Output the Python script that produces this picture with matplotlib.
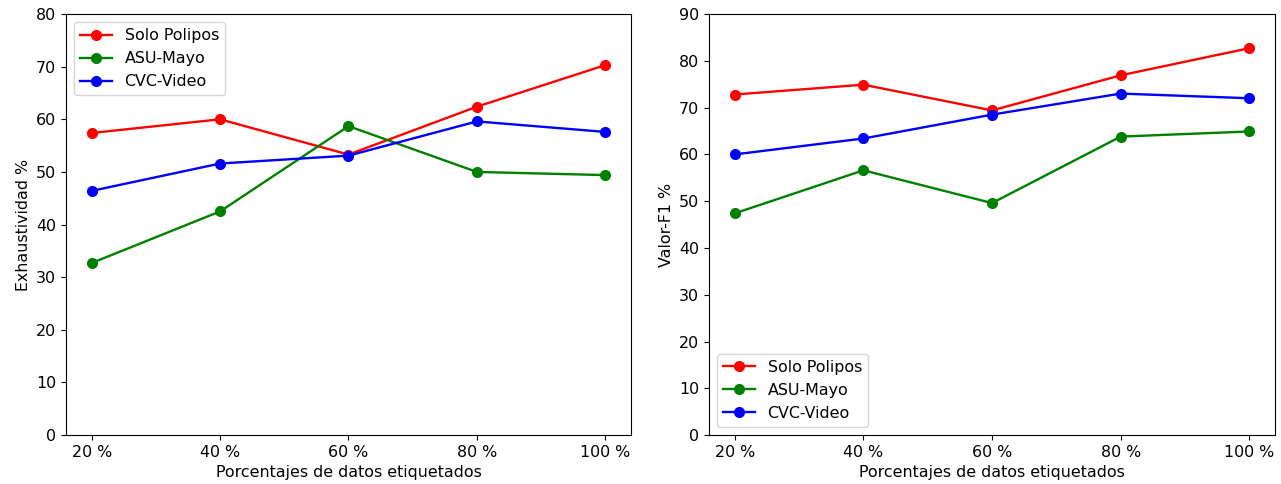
import matplotlib
matplotlib.use("Agg")
import matplotlib.pyplot as plt

# Datos
porcentajes = ['20 %', '40 %', '60 %', '80 %', '100 %']
series = ['Solo Polipos', 'ASU-Mayo', 'CVC-Video']
colores = ['red', 'green', 'blue']

exhaustividad_solo = [57.4, 60.0, 53.3, 62.4, 70.3]
exhaustividad_asu = [32.7, 42.5, 58.7, 50.0, 49.4]
exhaustividad_cvc = [46.4, 51.6, 53.1, 59.6, 57.6]

f1_solo = [72.8, 74.9, 69.4, 76.9, 82.7]
f1_asu = [47.4, 56.6, 49.6, 63.8, 64.9]
f1_cvc = [60.0, 63.4, 68.5, 73.0, 72.0]

plt.rcParams['font.size'] = 11.4

fig = plt.figure(figsize=(12.81, 4.84), dpi=100)
ax1 = fig.add_axes([0.0515, 0.101, 0.4411, 0.870])
ax2 = fig.add_axes([0.5535, 0.101, 0.4418, 0.870])

x = list(range(len(porcentajes)))

for datos, nombre, color in zip([exhaustividad_solo, exhaustividad_asu, exhaustividad_cvc], series, colores):
    ax1.plot(x, datos, 'o-', color=color, label=nombre, linewidth=1.7, markersize=7)
ax1.set_ylim(0, 80)
ax1.set_xticks(x)
ax1.set_xticklabels(porcentajes)
ax1.set_xlabel('Porcentajes de datos etiquetados')
ax1.set_ylabel('Exhaustividad %')
ax1.legend(loc='upper left')

for datos, nombre, color in zip([f1_solo, f1_asu, f1_cvc], series, colores):
    ax2.plot(x, datos, 'o-', color=color, label=nombre, linewidth=1.7, markersize=7)
ax2.set_ylim(0, 90)
ax2.set_xticks(x)
ax2.set_xticklabels(porcentajes)
ax2.set_xlabel('Porcentajes de datos etiquetados')
ax2.set_ylabel('Valor-F1 %')
ax2.legend(loc='lower left')

fig.savefig('out.png', dpi=100)
